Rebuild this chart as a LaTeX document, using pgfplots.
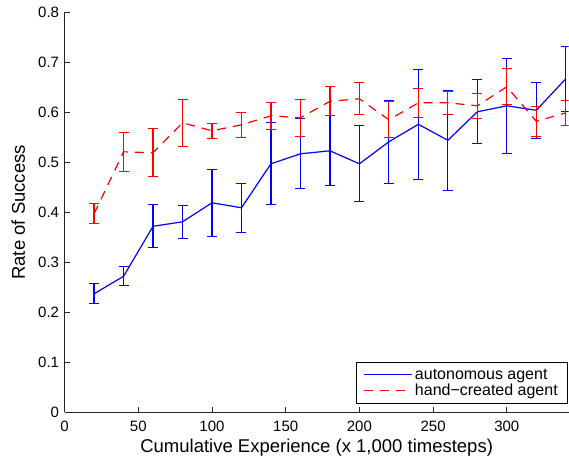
\documentclass[border=0pt]{standalone}
\usepackage{fontspec}
\setmainfont{Liberation Sans}
\usepackage{pgfplots}
\usepackage{pgfplotstable}
\pgfplotsset{compat=1.18}

\pgfplotstableread{
x y e
20 0.237 0.020
40 0.272 0.019
60 0.372 0.043
80 0.381 0.033
100 0.419 0.067
120 0.409 0.049
140 0.497 0.082
160 0.517 0.070
180 0.523 0.070
200 0.497 0.076
220 0.541 0.083
240 0.576 0.110
260 0.544 0.100
280 0.601 0.064
300 0.613 0.095
320 0.604 0.056
340 0.667 0.065
}\autonomous

\pgfplotstableread{
x y e
20 0.397 0.020
40 0.521 0.039
60 0.519 0.048
80 0.579 0.047
100 0.563 0.015
120 0.575 0.025
140 0.593 0.027
160 0.589 0.037
180 0.622 0.029
200 0.627 0.032
220 0.585 0.036
240 0.619 0.029
260 0.619 0.023
280 0.613 0.025
300 0.651 0.036
320 0.582 0.030
340 0.599 0.025
}\handcreated

\begin{document}
\begin{tikzpicture}
\begin{axis}[
  at={(0pt,0pt)}, anchor=south west,
  scale only axis, width=504.1pt, height=400pt,
  xmin=0, xmax=342, ymin=0, ymax=0.8,
  axis x line=bottom, axis y line=left,
  axis line style={-, line width=0.9pt, draw=black!85},
  tick align=inside, major tick length=5pt,
  tick style={line width=0.9pt, draw=black!85},
  xtick={0,50,100,150,200,250,300},
  ytick={0,0.1,0.2,0.3,0.4,0.5,0.6,0.7,0.8},
  /pgf/number format/assume math mode=true,
  yticklabel style={/pgf/number format/fixed, /pgf/number format/precision=1},
  ticklabel style={font=\fontsize{15}{18}\selectfont},
  xticklabel style={yshift=-5pt},
  yticklabel style={xshift=-2pt},
  xlabel={Cumulative Experience (x 1,000 timesteps)},
  ylabel={Rate of Success},
  xlabel style={font=\fontsize{18.5}{22}\selectfont, at={(axis description cs:0.5,-0.089)}, anchor=center},
  ylabel style={font=\fontsize{18.5}{22}\selectfont, at={(axis description cs:-0.092,0.5)}, anchor=center},
  legend cell align=left,
  legend style={at={(rel axis cs:1,0)}, anchor=south east, xshift=-1pt, yshift=8.3pt,
    font=\fontsize{16}{19}\selectfont, draw=black, line width=0.9pt, fill=white,
    inner xsep=7.5pt, inner ysep=4.5pt, row sep=-0.7pt},
  legend image code/.code={\draw[#1] (0pt,0pt) -- (48pt,0pt);},
]
\addplot[color=blue, draw=blue, line width=1.2pt, mark=none,
  error bars/.cd, y dir=both, y explicit,
  error bar style={draw=blue, line width=1.2pt, solid},
  error mark options={rotate=90, mark size=5pt, line width=1.2pt, draw=blue, solid}]
  table[x=x, y=y, y error=e]{\autonomous};
\addlegendentry{autonomous agent}
\addplot[color=red, draw=red, line width=1.2pt, mark=none, dash pattern=on 9pt off 7pt,
  error bars/.cd, y dir=both, y explicit,
  error bar style={draw=red, line width=1.2pt, solid},
  error mark options={rotate=90, mark size=5pt, line width=1.2pt, draw=red, solid}]
  table[x=x, y=y, y error=e]{\handcreated};
\addlegendentry{hand−created agent}
\end{axis}
\pgfresetboundingbox
\path[use as bounding box] (-64.6pt,-44.7pt) rectangle (504.4pt,412.3pt);
\end{tikzpicture}
\end{document}
